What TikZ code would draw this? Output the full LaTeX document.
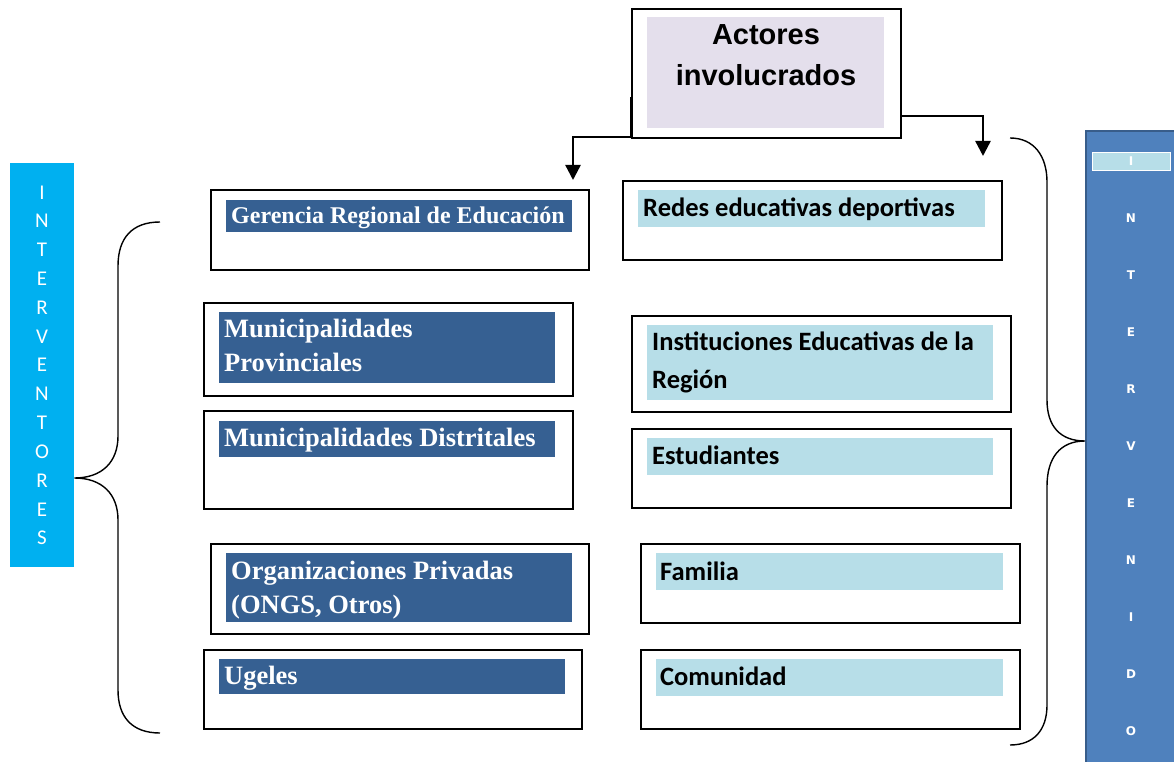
\documentclass[tikz,border=0pt]{standalone}
\usepackage{fontspec}
\setmainfont{Liberation Serif}
\newfontfamily\arialf{Liberation Sans}
\newfontfamily\calibf{Carlito}
\newfontfamily\verdf{DejaVu Sans}
\usetikzlibrary{calc,arrows.meta}
\definecolor{lblue}{HTML}{B7DEE8}
\definecolor{dblue}{HTML}{366092}
\definecolor{lav}{HTML}{E4DFEC}
\definecolor{cyanb}{HTML}{00B0F0}
\definecolor{midblue}{HTML}{4F81BD}
\definecolor{edgeblue}{HTML}{385D8A}
\begin{document}
\begin{tikzpicture}[x=1pt,y=-1pt,
  outer/.style={draw=black,line width=1.8pt,inner sep=0pt,anchor=north west},
  darkfill/.style={fill=dblue,inner sep=0pt,anchor=north west},
  lightfill/.style={fill=lblue,inner sep=0pt,anchor=north west},
  serif/.style={anchor=base west,inner sep=0pt,text=white,font=\fontsize{26.5}{30}\selectfont\bfseries},
  serifsmall/.style={serif,font=\fontsize{24}{28}\selectfont\bfseries},
  sans/.style={anchor=base west,inner sep=0pt,text=black,font=\calibf\fontsize{26.5}{30}\selectfont\bfseries},
  arr/.style={line width=2.4pt,-{Triangle[width=15pt,length=15pt]}},
  brace/.style={line width=1.4pt}
]
\useasboundingbox (0,0) rectangle (1174,762);

% Title
\node[outer,minimum width=269pt,minimum height=129pt] (title) at (631,8) {};
\node[fill=lav,inner sep=0pt,anchor=north west,minimum width=237pt,minimum height=111pt] (titlein) at (647,17) {};
\node[anchor=base,inner sep=0pt,font=\arialf\fontsize{29}{33}\selectfont\bfseries] (t1) at (766,45) {Actores};
\node[anchor=base,inner sep=0pt,font=\arialf\fontsize{29}{33}\selectfont\bfseries] (t2) at (766,86) {involucrados};

% Arrows
\coordinate (la) at (573,180);
\coordinate (ra) at (983,156);
\draw[arr] ($(title.south west)+(0,-42)$) -- ($(title.south west)+(0,-2)$) -| (la);
\draw[arr] ($(title.south east)+(0,-23)$) -| (ra);

% Left column boxes
\node[outer,minimum width=378pt,minimum height=80pt] (g) at (210,189) {};
\node[darkfill,minimum width=346pt,minimum height=32pt] (gin) at (226,200) {};
\node[serifsmall] (gt) at (231,223) {Gerencia Regional de Educación};

\node[outer,minimum width=369pt,minimum height=93pt] (mp) at (203,302) {};
\node[darkfill,minimum width=336pt,minimum height=71pt] (mpin) at (219,312) {};
\node[serif] (mpt1) at (224,337) {Municipalidades};
\node[serif] (mpt2) at (224,371) {Provinciales};

\node[outer,minimum width=369pt,minimum height=98pt] (md) at (203,410) {};
\node[darkfill,minimum width=336pt,minimum height=36pt] (mdin) at (219,421) {};
\node[serif] (mdt) at (224,446) {Municipalidades Distritales};

\node[outer,minimum width=378pt,minimum height=90pt] (op) at (210,543) {};
\node[darkfill,minimum width=346pt,minimum height=69pt] (opin) at (226,553) {};
\node[serif] (opt1) at (231,579) {Organizaciones Privadas};
\node[serif] (opt2) at (231,613) {(ONGS, Otros)};

\node[outer,minimum width=378pt,minimum height=79pt] (ug) at (203,649) {};
\node[darkfill,minimum width=346pt,minimum height=35pt] (ugin) at (219,659) {};
\node[serif] (ugt) at (224,684) {Ugeles};

% Right column boxes
\node[outer,minimum width=379pt,minimum height=79pt] (re) at (622,180) {};
\node[lightfill,minimum width=347pt,minimum height=37pt] (rein) at (638,190) {};
\node[sans] (ret) at (643,216) {Redes educativas deportivas};

\node[outer,minimum width=379pt,minimum height=96pt] (ie) at (631,315) {};
\node[lightfill,minimum width=346pt,minimum height=75pt] (iein) at (647,325) {};
\node[sans] (iet1) at (652,350) {Instituciones Educativas de la};
\node[sans] (iet2) at (652,388) {Región};

\node[outer,minimum width=379pt,minimum height=79pt] (es) at (631,428) {};
\node[lightfill,minimum width=346pt,minimum height=37pt] (esin) at (647,438) {};
\node[sans] (est) at (652,464) {Estudiantes};

\node[outer,minimum width=379pt,minimum height=79pt] (fa) at (640,543) {};
\node[lightfill,minimum width=347pt,minimum height=37pt] (fain) at (656,553) {};
\node[sans] (fat) at (660,580) {Familia};

\node[outer,minimum width=379pt,minimum height=79pt] (co) at (640,649) {};
\node[lightfill,minimum width=347pt,minimum height=37pt] (coin) at (656,659) {};
\node[sans] (cot) at (660,685) {Comunidad};

% Left side label
\node[fill=cyanb,inner sep=0pt,anchor=north west,minimum width=64pt,minimum height=404pt] (lside) at (10,163) {};
\foreach \L [count=\i from 0] in {I,N,T,E,R,V,E,N,T,O,R,E,S}{
  \node[anchor=base,inner sep=0pt,text=white,font=\calibf\fontsize{21}{24}\selectfont] (ll\i) at (42,{199+28.83*\i}) {\L};
}

% Right side label
\node[fill=midblue,draw=edgeblue,line width=2pt,inner sep=0pt,anchor=north west,minimum width=92pt,minimum height=640pt] (rside) at (1085,130) {};
\node[fill=lblue,draw=white,line width=0.6pt,inner sep=0pt,anchor=north west,minimum width=78pt,minimum height=18pt] (rtop) at (1092,152) {};
\node[anchor=base,inner sep=0pt,text=white,font=\verdf\fontsize{12}{14}\selectfont\bfseries] (rl0) at (1131,165.5) {I};
\foreach \L [count=\i from 1] in {N,T,E,R,V,E,N,I,D,O}{
  \node[anchor=base,inner sep=0pt,text=white,font=\verdf\fontsize{12}{14}\selectfont\bfseries] (rl\i) at (1131,{166+56.9*\i}) {\L};
}

% Braces
\coordinate (lb1) at (160,222);
\coordinate (lb2) at (160,733);
\draw[brace] (lb1) .. controls (132,222) and (118,238) .. (118,266) -- (118,436)
  .. controls (118,462) and (102,478) .. (lside.east |- 0,478)
  .. controls (102,478) and (118,494) .. (118,520) -- (118,690)
  .. controls (118,717) and (132,733) .. (lb2);

\coordinate (rb1) at (1010,138);
\coordinate (rb2) at (1010,745);
\draw[brace] (rb1) .. controls (1034,138) and (1047,156) .. (1047,182) -- (1047,400)
  .. controls (1047,426) and (1060,441) .. (rside.west |- 0,441)
  .. controls (1060,441) and (1047,458) .. (1047,486) -- (1047,705)
  .. controls (1047,730) and (1034,745) .. (rb2);
\end{tikzpicture}
\end{document}
